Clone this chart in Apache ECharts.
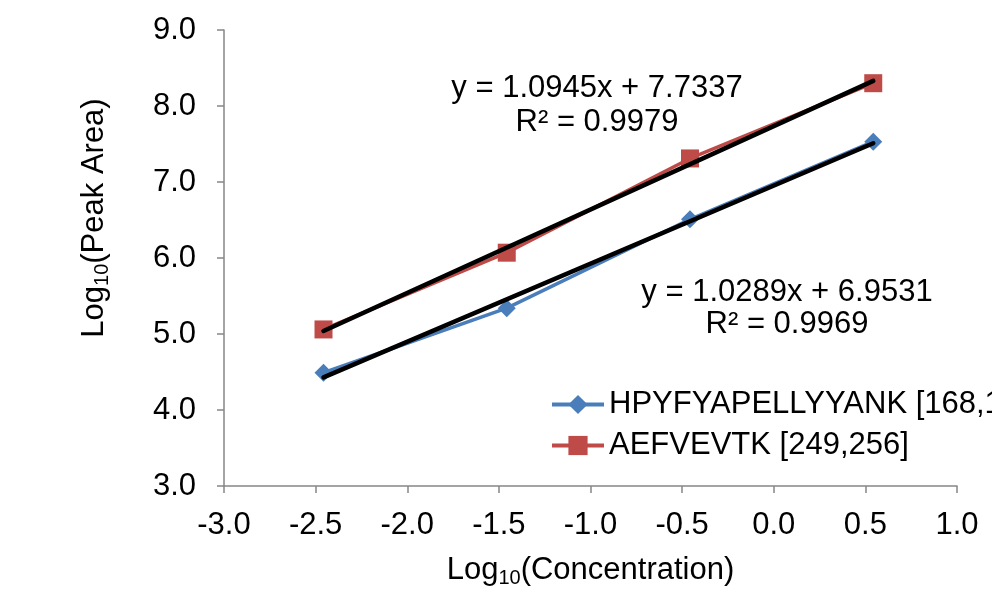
<!DOCTYPE html>
<html>
<head>
<meta charset="utf-8">
<script src="https://cdn.jsdelivr.net/npm/echarts@6/dist/echarts.min.js"></script>
<style>html,body{margin:0;padding:0;background:#fff;}#c{width:992px;height:589px;}</style>
</head>
<body>
<div id="c"></div>
<script>
const logConc = [-2.457, -1.457, -0.457, 0.543];
const bluePeak = [4.49, 5.34, 6.51, 7.53];
const redPeak = [5.06, 6.07, 7.31, 8.30];
const trendX = [-2.457, 0.543];
const blueTrendY = [4.43, 7.51];
const redTrendY = [5.04, 8.33];
const blueName = 'HPYFYAPELLYYANK [168,183]';
const redName = 'AEFVEVTK [249,256]';
const blueEq = ['y = 1.0289x + 6.9531', 'R² = 0.9969'];
const redEq = ['y = 1.0945x + 7.7337', 'R² = 0.9979'];

const FONT = 'Liberation Sans, Arial, sans-serif';
const FS = 31;
const pair = (xs, ys) => xs.map((x, i) => [x, ys[i]]);
const axisCol = '#868686';

const chart = echarts.init(document.getElementById('c'), null, {renderer: 'canvas'});
chart.setOption({
  animation: false,
  backgroundColor: '#fff',
  textStyle: {fontFamily: FONT},
  grid: {left: 224, right: 35, top: 30, bottom: 103, containLabel: false, outerBoundsMode: 'none'},
  xAxis: {
    type: 'value', min: -3, max: 1, interval: 0.5,
    name: 'Log{sub|10}(Concentration)', nameLocation: 'middle', nameGap: 66,
    nameTextStyle: {color: '#000', fontSize: FS, fontFamily: FONT, lineHeight: 36,
      rich: {sub: {fontSize: 20, fontFamily: FONT, color: '#000', verticalAlign: 'bottom', lineHeight: 21}}},
    axisLine: {show: true, onZero: false, lineStyle: {color: axisCol, width: 1.5}},
    axisTick: {show: true, inside: false, length: 7, lineStyle: {color: axisCol, width: 1.5}},
    axisLabel: {color: '#000', fontSize: FS, fontFamily: FONT, margin: 24,
      formatter: v => v.toFixed(1)},
    splitLine: {show: false}
  },
  yAxis: {
    type: 'value', min: 3, max: 9, interval: 1,
    name: 'Log{sub|10}(Peak Area)', nameLocation: 'middle', nameGap: 112,
    nameTextStyle: {color: '#000', fontSize: FS, fontFamily: FONT, lineHeight: 36, padding: [0, 0, 0, 80],
      rich: {sub: {fontSize: 20, fontFamily: FONT, color: '#000', verticalAlign: 'bottom', lineHeight: 21}}},
    axisLine: {show: true, onZero: false, lineStyle: {color: axisCol, width: 1.5}},
    axisTick: {show: true, inside: false, length: 7, lineStyle: {color: axisCol, width: 1.5}},
    axisLabel: {color: '#000', fontSize: FS, fontFamily: FONT, margin: 28,
      formatter: v => v.toFixed(1)},
    splitLine: {show: false}
  },
  legend: {
    data: [blueName, redName],
    orient: 'vertical', left: 550, top: 389, itemGap: 10, padding: 0,
    itemWidth: 52, itemHeight: 24,
    lineStyle: {width: 4},
    textStyle: {color: '#000', fontSize: FS, fontFamily: FONT}
  },
  series: [
    {name: blueName, type: 'line', data: pair(logConc, bluePeak), z: 2,
      symbol: 'diamond', symbolSize: 18, color: '#4A7EBB',
      lineStyle: {color: '#4A7EBB', width: 3.5}, itemStyle: {color: '#4A7EBB'}},
    {name: redName, type: 'line', data: pair(logConc, redPeak), z: 2,
      symbol: 'rect', symbolSize: 18, color: '#BE4B48',
      lineStyle: {color: '#BE4B48', width: 3.5}, itemStyle: {color: '#BE4B48'}},
    {name: 'blueTrend', type: 'line', data: pair(trendX, blueTrendY), z: 5,
      symbol: 'none', lineStyle: {color: '#000', width: 4.5, cap: 'round'}, silent: true},
    {name: 'redTrend', type: 'line', data: pair(trendX, redTrendY), z: 5,
      symbol: 'none', lineStyle: {color: '#000', width: 4.5, cap: 'round'}, silent: true}
  ],
  graphic: [
    {type: 'text', x: 597, y: 88, style: {text: redEq[0], font: FS + 'px ' + FONT, fill: '#000', textAlign: 'center', textVerticalAlign: 'middle'}},
    {type: 'text', x: 597, y: 122, style: {text: redEq[1], font: FS + 'px ' + FONT, fill: '#000', textAlign: 'center', textVerticalAlign: 'middle'}},
    {type: 'text', x: 787, y: 292, style: {text: blueEq[0], font: FS + 'px ' + FONT, fill: '#000', textAlign: 'center', textVerticalAlign: 'middle'}},
    {type: 'text', x: 787, y: 324, style: {text: blueEq[1], font: FS + 'px ' + FONT, fill: '#000', textAlign: 'center', textVerticalAlign: 'middle'}}
  ]
});
</script>
</body>
</html>
